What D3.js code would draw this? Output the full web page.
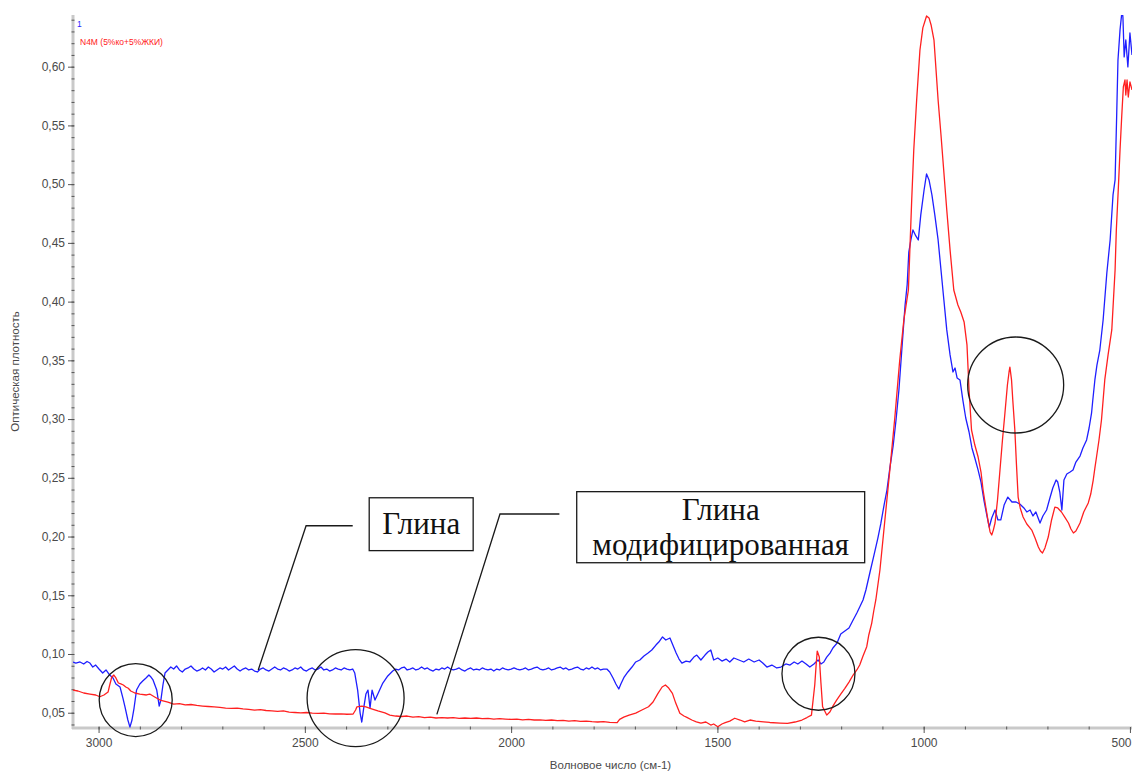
<!DOCTYPE html>
<html>
<head>
<meta charset="utf-8">
<script src="https://cdn.jsdelivr.net/npm/d3@7"></script>
<style>
  html, body { margin: 0; padding: 0; background: #fff; }
  svg { display: block; }
</style>
</head>
<body>
<svg id="chart" width="1132" height="773"></svg>
<script>
// IR spectra: wavenumber (cm-1) vs absorbance
const seriesNames = ["1", "N4M (5%ко+5%ЖКИ)"];
const annotationLabels = [["Глина"], ["Глина", "модифицированная"]];
const xTicks = [3000, 2500, 2000, 1500, 1000, 500];
const yTicks = [0.05, 0.10, 0.15, 0.20, 0.25, 0.30, 0.35, 0.40, 0.45, 0.50, 0.55, 0.60];
const xTitle = "Волновое число (см-1)";
const yTitle = "Оптическая плотность";

// series "1" — clay
const clay = [
  [3062,0.0932],[3055,0.0923],[3045,0.0932],[3036,0.0915],[3028,0.0936],[3021,0.0923],[3014,0.0889],[3007,0.0906],
  [2999,0.0872],[2990,0.0838],[2982,0.0864],[2973,0.0821],[2965,0.0796],[2958,0.0745],[2948,0.0719],[2941,0.0625],
  [2936,0.0549],[2929,0.0438],[2924,0.0378],[2919,0.0438],[2914,0.0540],[2908,0.0693],[2900,0.0745],[2893,0.0770],
  [2885,0.0796],[2878,0.0821],[2873,0.0804],[2868,0.0779],[2859,0.0693],[2856,0.0625],[2853,0.0557],[2849,0.0608],
  [2844,0.0736],[2839,0.0838],
  [2832,0.0864],[2825,0.0889],[2818,0.0872],[2811,0.0898],[2804,0.0864],[2797,0.0847],[2790,0.0872],[2783,0.0881],
  [2776,0.0898],[2769,0.0872],[2762,0.0855],[2755,0.0864],[2748,0.0881],[2741,0.0864],[2734,0.0889],[2727,0.0872],
  [2720,0.0847],[2713,0.0864],[2706,0.0881],[2699,0.0872],[2692,0.0889],[2685,0.0864],[2678,0.0881],[2671,0.0898],
  [2664,0.0872],[2657,0.0855],[2650,0.0872],[2643,0.0881],[2636,0.0864],[2629,0.0872],[2622,0.0855],[2615,0.0847],
  [2608,0.0872],[2601,0.0881],[2594,0.0864],[2587,0.0855],[2580,0.0872],[2573,0.0889],[2566,0.0872],[2559,0.0864],
  [2552,0.0881],[2545,0.0872],[2538,0.0855],[2531,0.0864],[2524,0.0881],[2517,0.0872],[2510,0.0889],[2503,0.0864],
  [2496,0.0855],[2489,0.0872],[2482,0.0881],[2475,0.0864],[2468,0.0872],[2461,0.0889],[2454,0.0864],[2447,0.0872],
  [2440,0.0855],[2433,0.0864],[2426,0.0881],[2419,0.0872],[2412,0.0864],[2405,0.0881],[2398,0.0872],[2391,0.0864],
  [2384,0.0872],[2379,0.0838],[2372,0.0693],[2366,0.0497],[2362,0.0421],[2357,0.0548],[2352,0.0659],
  [2347,0.0693],[2342,0.0540],[2337,0.0693],[2330,0.0608],[2322,0.0668],[2311,0.0753],[2299,0.0813],
  [2287,0.0855],[2280,0.0872],[2273,0.0864],[2266,0.0881],[2259,0.0889],[2252,0.0864],[2245,0.0872],[2238,0.0881],
  [2231,0.0864],[2224,0.0872],[2217,0.0889],[2210,0.0872],[2203,0.0881],[2196,0.0864],[2189,0.0855],[2182,0.0872],
  [2175,0.0864],[2168,0.0881],[2161,0.0872],[2154,0.0889],[2147,0.0872],[2140,0.0864],[2133,0.0872],[2126,0.0881],
  [2119,0.0864],[2112,0.0855],[2105,0.0872],[2098,0.0881],[2091,0.0864],[2084,0.0872],[2077,0.0864],[2070,0.0881],
  [2063,0.0872],[2056,0.0864],[2049,0.0872],[2042,0.0855],[2035,0.0872],[2028,0.0864],[2021,0.0881],[2014,0.0872],
  [2007,0.0864],[2000,0.0872],[1993,0.0881],[1986,0.0872],[1979,0.0864],[1972,0.0872],[1965,0.0881],[1958,0.0864],
  [1951,0.0872],[1944,0.0881],[1937,0.0889],[1930,0.0872],[1923,0.0864],[1916,0.0872],[1909,0.0881],[1902,0.0864],
  [1895,0.0872],[1888,0.0881],[1881,0.0889],[1874,0.0872],[1867,0.0881],[1860,0.0864],[1853,0.0872],[1846,0.0881],
  [1839,0.0889],[1832,0.0872],[1825,0.0864],[1818,0.0881],[1811,0.0872],[1804,0.0889],[1797,0.0872],[1790,0.0881],
  [1783,0.0864],[1776,0.0872],[1768,0.0872],[1761,0.0847],[1753,0.0796],[1746,0.0745],[1739,0.0702],
  [1734,0.0745],[1726,0.0804],[1717,0.0847],[1707,0.0889],[1698,0.0932],[1688,0.0949],[1678,0.0983],[1668,0.1008],
  [1659,0.1034],[1649,0.1076],[1642,0.1102],[1633,0.1145],[1625,0.1119],[1615,0.1136],[1608,0.1076],[1600,0.1008],
  [1593,0.0957],[1586,0.0923],[1576,0.0940],[1567,0.0932],[1557,0.0974],[1550,0.0991],[1540,0.0949],[1530,0.0991],
  [1523,0.1017],[1516,0.1034],[1509,0.0949],[1499,0.0966],[1489,0.0940],[1479,0.0957],[1470,0.0932],[1460,0.0966],
  [1448,0.0949],[1436,0.0932],[1424,0.0957],[1411,0.0932],[1399,0.0949],[1390,0.0923],[1380,0.0889],[1368,0.0906],
  [1356,0.0881],[1346,0.0889],[1334,0.0915],[1324,0.0906],[1314,0.0932],[1305,0.0915],[1295,0.0940],[1285,0.0915],
  [1276,0.0889],[1266,0.0915],[1256,0.0949],[1249,0.0915],[1242,0.0932],[1235,0.0974],[1227,0.1008],[1220,0.1051],
  [1210,0.1093],[1201,0.1170],[1191,0.1195],[1181,0.1221],[1171,0.1289],[1162,0.1349],[1155,0.1400],[1147,0.1460],
  [1140,0.1545],[1130,0.1698],[1121,0.1834],[1111,0.1987],[1104,0.2107],[1096,0.2268],[1089,0.2396],[1082,0.2583],
  [1074,0.2771],[1067,0.2992],[1060,0.3248],[1053,0.3588],[1045,0.3972],[1040,0.4142],[1036,0.4422],[1031,0.4525],
  [1026,0.4610],[1019,0.4559],[1013,0.4525],[1007,0.4738],[999,0.4950],[993,0.5087],[987,0.5036],[980,0.4908],
  [973,0.4738],[965,0.4525],[958,0.4269],[951,0.4014],[944,0.3759],[936,0.3546],[929,0.3401],[924,0.3435],
  [919,0.3350],[912,0.3333],[905,0.3162],[898,0.3009],[890,0.2890],[883,0.2754],[876,0.2669],[868,0.2566],
  [861,0.2464],[854,0.2311],[847,0.2183],[841,0.2081],[835,0.2158],[827,0.2226],[820,0.2141],[813,0.2141],
  [805,0.2268],[796,0.2336],[786,0.2294],[776,0.2294],[767,0.2277],[757,0.2243],[750,0.2209],[742,0.2226],
  [735,0.2175],[728,0.2209],[718,0.2115],[711,0.2175],[702,0.2226],[694,0.2328],[687,0.2413],[679,0.2481],
  [675,0.2464],[670,0.2379],[665,0.2226],[660,0.2481],[653,0.2532],[645,0.2549],[638,0.2566],[631,0.2634],
  [621,0.2685],[614,0.2754],[605,0.2822],[599,0.2924],[593,0.3052],[590,0.3162],[585,0.3333],[580,0.3460],
  [573,0.3588],[565,0.3843],[556,0.4244],[548,0.4525],[541,0.4908],[536,0.5036],[532,0.5606],[529,0.6057],
  [524,0.6313],[519,0.6483],[517,0.6423],[514,0.6083],[510,0.6227],[505,0.5998],[500,0.6287],[495,0.6100]
];

// series "N4M" — modified clay
const modified = [
  [3062,0.0693],[3050,0.0685],[3036,0.0668],[3021,0.0659],[3007,0.0651],[2997,0.0636],[2987,0.0651],[2977,0.0676],
  [2973,0.0736],[2968,0.0804],[2963,0.0821],[2958,0.0796],[2952,0.0753],[2946,0.0745],[2940,0.0736],[2934,0.0719],
  [2928,0.0708],[2922,0.0685],[2912,0.0668],[2900,0.0659],[2884,0.0651],[2876,0.0659],[2864,0.0634],[2851,0.0608],
  [2832,0.0591],[2818,0.0574],[2804,0.0578],[2790,0.0566],[2776,0.0570],[2762,0.0562],[2748,0.0557],[2734,0.0553],
  [2720,0.0549],[2706,0.0545],[2692,0.0540],[2678,0.0537],[2664,0.0540],[2650,0.0532],[2636,0.0528],[2622,0.0523],
  [2608,0.0527],[2594,0.0519],[2580,0.0515],[2566,0.0511],[2552,0.0515],[2538,0.0506],[2524,0.0502],[2510,0.0498],
  [2496,0.0502],[2482,0.0497],[2468,0.0494],[2454,0.0497],[2440,0.0491],[2426,0.0489],[2412,0.0491],[2398,0.0487],
  [2383,0.0489],[2377,0.0523],[2374,0.0549],[2362,0.0557],[2352,0.0549],[2342,0.0537],
  [2323,0.0515],[2306,0.0498],[2294,0.0480],[2280,0.0472],[2266,0.0468],[2252,0.0472],[2238,0.0463],[2224,0.0466],
  [2210,0.0459],[2196,0.0463],[2182,0.0455],[2168,0.0459],[2154,0.0455],[2140,0.0459],[2126,0.0452],[2112,0.0455],
  [2098,0.0452],[2084,0.0455],[2070,0.0449],[2056,0.0452],[2042,0.0446],[2028,0.0449],[2014,0.0446],[2000,0.0443],
  [1986,0.0446],[1972,0.0440],[1958,0.0443],[1944,0.0438],[1930,0.0440],[1916,0.0435],[1902,0.0438],[1888,0.0432],
  [1874,0.0435],[1860,0.0429],[1846,0.0432],[1832,0.0427],[1818,0.0429],[1804,0.0424],[1790,0.0421],[1776,0.0424],
  [1761,0.0418],[1743,0.0415],[1737,0.0444],[1727,0.0463],[1714,0.0480],
  [1698,0.0497],[1683,0.0523],[1667,0.0551],[1656,0.0591],[1644,0.0665],[1634,0.0719],[1626,0.0736],[1618,0.0710],
  [1609,0.0665],[1601,0.0582],[1591,0.0495],[1581,0.0472],[1574,0.0461],[1562,0.0438],[1551,0.0423],[1540,0.0412],
  [1528,0.0421],[1516,0.0395],[1509,0.0404],[1499,0.0381],[1489,0.0404],[1481,0.0415],[1470,0.0429],[1458,0.0453],
  [1445,0.0438],[1434,0.0423],[1421,0.0438],[1407,0.0429],[1388,0.0423],[1373,0.0417],[1348,0.0412],[1330,0.0409],
  [1312,0.0421],[1295,0.0438],[1283,0.0459],[1272,0.0480],[1268,0.0608],[1264,0.0736],[1261,0.0889],[1258,0.1025],
  [1253,0.0974],[1249,0.0753],[1245,0.0551],[1235,0.0480],[1227,0.0509],[1220,0.0557],[1211,0.0608],[1201,0.0659],
  [1191,0.0708],[1181,0.0761],[1171,0.0821],[1162,0.0864],[1155,0.0906],[1147,0.0983],[1138,0.1062],[1133,0.1162],
  [1126,0.1261],[1121,0.1366],[1116,0.1460],[1106,0.1715],[1094,0.2141],[1082,0.2566],[1070,0.3009],[1058,0.3503],
  [1048,0.3844],[1037,0.4099],[1029,0.4865],[1024,0.5291],[1017,0.5717],[1009,0.6142],[1002,0.6330],[993,0.6432],
  [987,0.6415],[982,0.6355],[975,0.6227],[970,0.5972],[965,0.5717],[958,0.5419],[952,0.5146],[944,0.4780],
  [936,0.4440],[927,0.4099],[917,0.3971],[910,0.3912],[902,0.3827],[895,0.3631],[890,0.3248],[884,0.2907],
  [876,0.2779],[868,0.2677],[861,0.2549],[856,0.2396],[849,0.2243],[843,0.2115],[839,0.2039],[835,0.2013],
  [831,0.2057],[827,0.2115],[821,0.2311],[815,0.2566],[809,0.2822],[803,0.3052],[797,0.3290],[793,0.3401],
  [791,0.3443],[787,0.3333],[784,0.3162],[779,0.2907],[775,0.2609],[771,0.2336],[766,0.2243],[759,0.2166],
  [750,0.2107],[738,0.2055],[730,0.1987],[722,0.1911],[717,0.1877],[712,0.1860],[706,0.1903],[698,0.1996],
  [690,0.2141],[682,0.2251],[675,0.2243],[666,0.2209],[658,0.2166],[649,0.2115],[643,0.2064],[637,0.2030],
  [631,0.2047],[621,0.2115],[612,0.2209],[601,0.2286],[595,0.2362],[589,0.2481],[585,0.2583],[581,0.2677],
  [575,0.2822],[569,0.2992],[565,0.3162],[561,0.3333],[553,0.3546],[544,0.3759],[540,0.4014],[536,0.4269],
  [533,0.4610],[528,0.4976],[524,0.5291],[520,0.5572],[516,0.5827],[512,0.5887],[510,0.5759],[507,0.5887],
  [504,0.5742],[500,0.5870],[495,0.5802]
];

// highlighted bands: centre (cm-1, absorbance)
const highlightCentres = [[2910, 0.0608], [2377, 0.0625], [1255, 0.0832], [777, 0.329]];
const highlightRadii = [36.5, 48.5, 36.5, 48];

// callouts: box corners and leader path, in data units
const calloutBoxes = [
  { x0: 2344, x1: 2092, y0: 0.2330, y1: 0.1880 },
  { x0: 1841, x1: 1143, y0: 0.2382, y1: 0.1777 }
];
const calloutLeaders = [
  [[2384, 0.2092], [2497, 0.2092], [2613, 0.0864]],
  [[1883, 0.2192], [2027, 0.2192], [2180, 0.0486]]
];

const svg = d3.select("#chart");
const plotLeft = 73, plotRight = 1132, plotTop = 15, plotBottom = 728;

const x = d3.scaleLinear().domain([3062, 495]).range([plotLeft, plotRight]);
const y = d3.scaleLinear().domain([0.037, 0.644]).range([plotBottom, plotTop]);

const defs = svg.append("defs");
defs.append("clipPath").attr("id", "plotClip")
  .append("rect").attr("x", plotLeft).attr("y", plotTop)
  .attr("width", plotRight - plotLeft).attr("height", plotBottom - plotTop);

// axis bars
const axisGrey = "#c9c9c9";
svg.append("line").attr("x1", plotLeft).attr("x2", plotLeft).attr("y1", plotTop).attr("y2", plotBottom + 1)
  .attr("stroke", axisGrey).attr("stroke-width", 3);
svg.append("line").attr("x1", plotLeft - 1).attr("x2", plotRight).attr("y1", plotBottom).attr("y2", plotBottom)
  .attr("stroke", axisGrey).attr("stroke-width", 3);

const tickColor = "#555";
const labelFont = "'Liberation Sans', Arial, sans-serif";

// minor ticks
const yMinor = d3.range(4, 65).map(d => d / 100).filter(v => v >= 0.037 && v <= 0.644);
const xMinor = d3.range(600, 3100, 100);

svg.append("g").attr("transform", `translate(${plotLeft + 1.5},0)`)
  .call(d3.axisLeft(y).tickValues(yMinor).tickSize(3).tickFormat(""))
  .call(g => g.select(".domain").remove())
  .call(g => g.selectAll("line").attr("stroke", tickColor));

svg.append("g").attr("transform", `translate(0,${plotBottom - 1.5})`)
  .call(d3.axisBottom(x).tickValues(xMinor).tickSize(3).tickFormat(""))
  .call(g => g.select(".domain").remove())
  .call(g => g.selectAll("line").attr("stroke", tickColor));

// major ticks with labels
const yAxis = svg.append("g").attr("transform", `translate(${plotLeft + 1},0)`)
  .call(d3.axisLeft(y).tickValues(yTicks).tickSize(6).tickPadding(3)
    .tickFormat(d => d3.format(".2f")(d).replace(".", ",")))
  .call(g => g.select(".domain").remove());
yAxis.selectAll("line").attr("stroke", tickColor);
yAxis.selectAll("text").attr("fill", "#4a4a4a").attr("font-size", 12).attr("font-family", labelFont);

const xAxis = svg.append("g").attr("transform", `translate(0,${plotBottom - 1})`)
  .call(d3.axisBottom(x).tickValues(xTicks).tickSize(6).tickPadding(5).tickFormat(d3.format("d")))
  .call(g => g.select(".domain").remove());
xAxis.selectAll("line").attr("stroke", tickColor);
xAxis.selectAll("text").attr("fill", "#4a4a4a").attr("font-size", 12).attr("font-family", labelFont);
// the last label sits on the right border: keep it inside the page
xAxis.selectAll(".tick").filter(d => x(d) > plotRight - 15).select("text")
  .attr("text-anchor", "end").attr("dx", plotRight - 1 - x(500));

// axis titles
svg.append("text").attr("x", (plotLeft + plotRight) / 2 + 8).attr("y", 769)
  .attr("text-anchor", "middle").attr("font-family", labelFont).attr("font-size", 11.5)
  .attr("fill", "#4a4a4a").text(xTitle);
svg.append("text").attr("transform", `translate(19,${(plotTop + plotBottom) / 2}) rotate(-90)`)
  .attr("text-anchor", "middle").attr("font-family", labelFont).attr("font-size", 11.5)
  .attr("fill", "#4a4a4a").text(yTitle);

// spectra
const line = d3.line().x(d => x(d[0])).y(d => y(d[1]));
const plot = svg.append("g").attr("clip-path", "url(#plotClip)");
const colors = ["#1f1fff", "#ff2020"];
[clay, modified].forEach((s, i) => {
  plot.append("path").datum(s).attr("d", line)
    .attr("fill", "none").attr("stroke", colors[i]).attr("stroke-width", 1.3)
    .attr("stroke-linejoin", "round");
});

// legend
svg.append("text").attr("x", 77).attr("y", 27).attr("font-family", labelFont)
  .attr("font-size", 8.5).attr("fill", colors[0]).text(seriesNames[0]);
svg.append("text").attr("x", 80).attr("y", 45).attr("font-family", labelFont)
  .attr("font-size", 8.5).attr("fill", colors[1]).text(seriesNames[1]);

// highlighted bands
svg.append("g").selectAll("circle").data(highlightCentres).join("circle")
  .attr("cx", d => x(d[0])).attr("cy", d => y(d[1]))
  .attr("r", (d, i) => highlightRadii[i])
  .attr("fill", "none").attr("stroke", "#1a1a1a").attr("stroke-width", 1.3);

// callouts
const callouts = svg.append("g");
calloutLeaders.forEach(pts => {
  callouts.append("path").datum(pts).attr("d", line)
    .attr("fill", "none").attr("stroke", "#1a1a1a").attr("stroke-width", 1.3);
});
calloutBoxes.forEach((b, i) => {
  const bx = x(b.x0), bw = x(b.x1) - x(b.x0);
  const by = y(b.y0), bh = y(b.y1) - y(b.y0);
  callouts.append("rect").attr("x", bx).attr("y", by).attr("width", bw).attr("height", bh)
    .attr("fill", "#fff").attr("stroke", "#1a1a1a").attr("stroke-width", 1.3);
  const lines = annotationLabels[i];
  const fs = 31, lh = 35;
  const t = callouts.append("text").attr("text-anchor", "middle")
    .attr("font-family", "'Liberation Serif', 'Times New Roman', serif")
    .attr("font-size", fs).attr("fill", "#111");
  const firstBaseline = by + bh / 2 - (lines.length - 1) * lh / 2 + fs * 0.33;
  lines.forEach((s, k) => {
    t.append("tspan").attr("x", bx + bw / 2).attr("y", firstBaseline + k * lh).text(s);
  });
});
</script>
</body>
</html>
